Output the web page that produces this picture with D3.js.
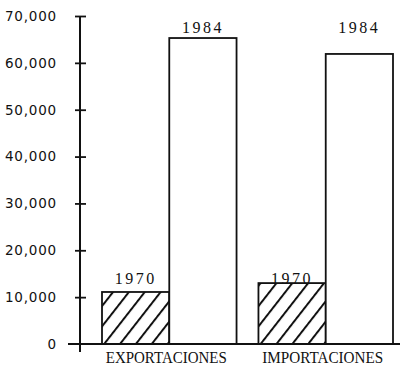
<!DOCTYPE html>
<html>
<head>
<meta charset="utf-8">
<script src="https://cdn.jsdelivr.net/npm/d3@7"></script>
<style>
  html, body { margin: 0; padding: 0; background: #fff; }
  svg { display: block; }
</style>
</head>
<body>
<svg id="chart" width="407" height="367"></svg>
<script>
// Trade flows, millions, by category and year
const categories = ["EXPORTACIONES", "IMPORTACIONES"];
const years = ["1970", "1984"];
const values1970 = [11100, 13000];
const values1984 = [65300, 61900];
const yTicks = [0, 10000, 20000, 30000, 40000, 50000, 60000, 70000];

const rows = categories.map((c, i) => ({
  category: c,
  bars: [
    { year: years[0], value: values1970[i] },
    { year: years[1], value: values1984[i] }
  ]
}));

const svg = d3.select("#chart");
const ink = "#111";

const y = d3.scaleLinear().domain([0, 70000]).range([344, 16]);
const x0 = d3.scaleBand().domain(categories).range([102, 393]).paddingInner(0.14).paddingOuter(0);
const x1 = d3.scaleBand().domain(years).range([0, x0.bandwidth()]).padding(0);
const axisX = 80;

// diagonal hatching for the earlier year
const defs = svg.append("defs");
const pat = defs.append("pattern")
  .attr("id", "hatch")
  .attr("patternUnits", "userSpaceOnUse")
  .attr("width", 12.5).attr("height", 10)
  .attr("patternTransform", "rotate(38)");
pat.append("line")
  .attr("x1", 1).attr("y1", 0).attr("x2", 1).attr("y2", 10)
  .attr("stroke", ink).attr("stroke-width", 2);

// bars
const groups = svg.selectAll("g.cat").data(rows).enter().append("g")
  .attr("class", "cat")
  .attr("transform", d => `translate(${x0(d.category)},0)`);

groups.selectAll("rect").data(d => d.bars).enter().append("rect")
  .attr("x", d => x1(d.year))
  .attr("y", d => y(d.value))
  .attr("width", x1.bandwidth())
  .attr("height", d => y(0) - y(d.value))
  .attr("fill", d => d.year === years[0] ? "url(#hatch)" : "#fff")
  .attr("stroke", ink)
  .attr("stroke-width", 1.8);

// year labels above each bar
groups.selectAll("text.yr").data(d => d.bars).enter().append("text")
  .attr("class", "yr")
  .attr("x", d => x1(d.year) + x1.bandwidth() / 2)
  .attr("y", d => d.year === years[1] ? 33 : 284)
  .attr("text-anchor", "middle")
  .attr("font-family", "Liberation Serif, serif")
  .attr("font-size", 16)
  .attr("letter-spacing", 2.5)
  .attr("fill", ink)
  .text(d => d.year);

// category labels
svg.append("g").selectAll("text").data(categories).enter().append("text")
  .attr("x", d => x0(d) + x0.bandwidth() / 2 - 3)
  .attr("y", 363)
  .attr("text-anchor", "middle")
  .attr("font-family", "Liberation Serif, serif")
  .attr("font-size", 17)
  .attr("textLength", 121)
  .attr("lengthAdjust", "spacingAndGlyphs")
  .attr("fill", ink)
  .text(d => d);

// baseline
svg.append("line")
  .attr("x1", 68).attr("x2", 400)
  .attr("y1", y(0)).attr("y2", y(0))
  .attr("stroke", ink).attr("stroke-width", 1.8);

// vertical axis with ticks crossing the line
const yAxis = d3.axisLeft(y)
  .tickValues(yTicks)
  .tickSize(0)
  .tickPadding(23)
  .tickFormat(d3.format(","));
const ag = svg.append("g").attr("transform", `translate(${axisX},0)`).call(yAxis);
ag.select(".domain").remove();
ag.selectAll("text")
  .attr("font-family", "DejaVu Sans, sans-serif")
  .attr("font-size", 13.5)
  .attr("letter-spacing", 0.8)
  .attr("fill", ink);
ag.append("line")
  .attr("x1", 0).attr("x2", 0)
  .attr("y1", y(70000)).attr("y2", 352)
  .attr("stroke", ink).attr("stroke-width", 2);
ag.selectAll(".tick").filter(d => d > 0).append("line")
  .attr("x1", -5).attr("x2", 6)
  .attr("stroke", ink).attr("stroke-width", 1.8);
</script>
</body>
</html>
